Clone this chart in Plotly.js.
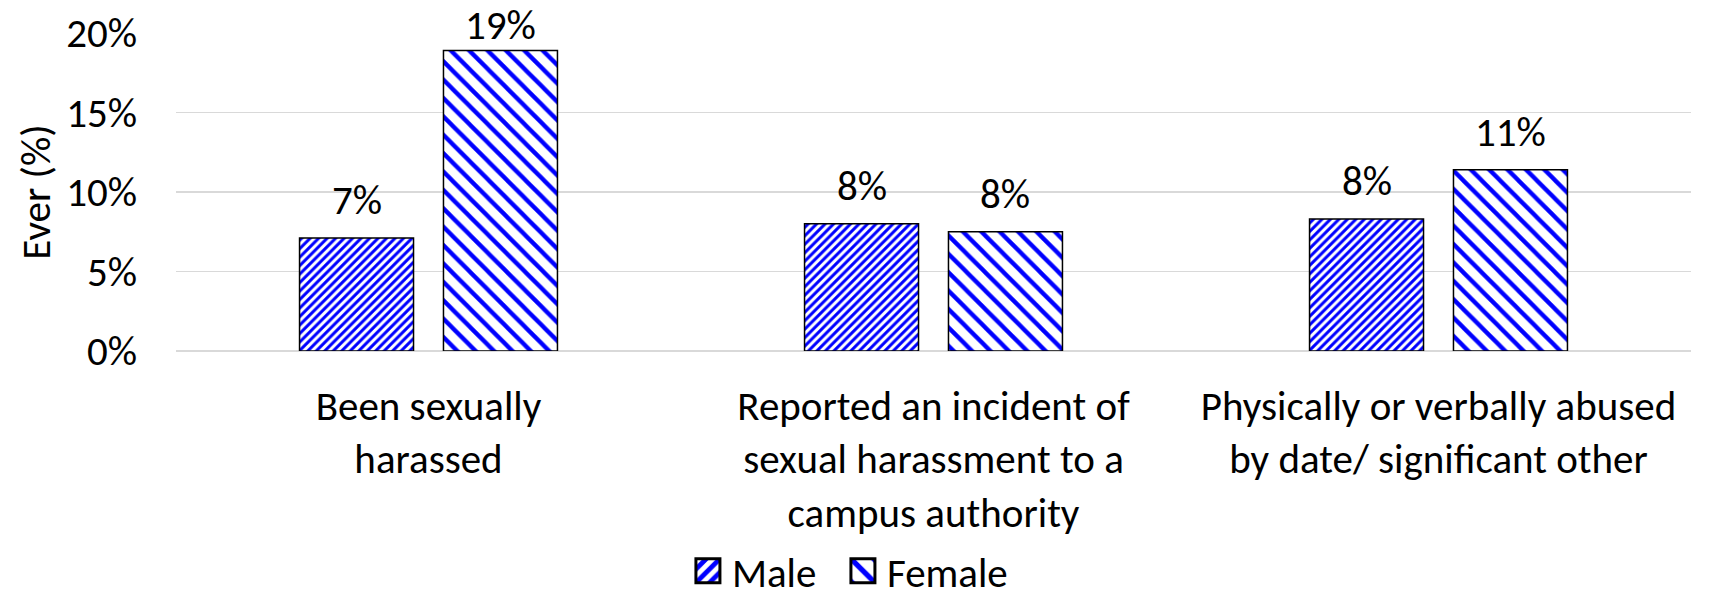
<!DOCTYPE html>
<html>
<head>
<meta charset="utf-8">
<script src="https://cdn.plot.ly/plotly-3.0.1.min.js"></script>
<style>
  html, body { margin: 0; padding: 0; background: #fff; }
  #chart { width: 1710px; height: 593px; }
</style>
</head>
<body>
<div id="chart"></div>
<script>
// ---- Data ----
const categories = [
  "Been sexually<br>harassed",
  "Reported an incident of<br>sexual harassment to a<br>campus authority",
  "Physically or verbally abused<br>by date/ significant other"
];
const seriesNames = ["Male", "Female"];
const maleValues = [7.1, 8.0, 8.3];
const femaleValues = [18.9, 7.5, 11.4];
const yTickValues = [0, 5, 10, 15, 20];
const yTickLabels = ["0%", "5%", "10%", "15%", "20%"];
const yAxisTitle = "Ever (%)";

// ---- Style ----
const FONT = "Carlito, Lato, 'Open Sans', sans-serif";
const FS = 41;
const W = 1710, H = 593;
const M = {l: 176, r: 19, t: 33, b: 242};
const yMax = 20;
const bargap = 0.43, bargroupgap = 0.208;
const blue = "#0000ff";

const traces = [
  {
    type: "bar", name: seriesNames[0], x: categories, y: maleValues,
    marker: {
      color: "#ffffff",
      line: {color: "#000000", width: 1.5},
      pattern: {shape: "/", fgcolor: blue, bgcolor: "#ffffff", size: 6, solidity: 0.5, fillmode: "replace"}
    },
    hoverinfo: "skip"
  },
  {
    type: "bar", name: seriesNames[1], x: categories, y: femaleValues,
    marker: {
      color: "#ffffff",
      line: {color: "#000000", width: 1.5},
      pattern: {shape: "\\", fgcolor: blue, bgcolor: "#ffffff", size: 13, solidity: 0.33, fillmode: "replace"}
    },
    hoverinfo: "skip"
  }
];

// data labels above each bar, positioned through the axis scale (kept inside the chart like Excel)
const plotH = H - M.t - M.b;
const pxPerUnit = plotH / yMax;
const labelRoom = 52;
const slotOffset = (1 - bargap) / 4;
const annotations = [];
[maleValues, femaleValues].forEach((vals, si) => {
  vals.forEach((v, ci) => {
    const barTopPx = M.t + (yMax - v) * pxPerUnit;
    annotations.push({
      x: ci + (si === 0 ? -slotOffset : slotOffset),
      y: v, xref: "x", yref: "y",
      text: Math.round(v) + "%",
      showarrow: false, yanchor: "bottom", xanchor: "center",
      yshift: Math.min(11, barTopPx - labelRoom),
      font: {family: FONT, size: FS, color: "#000"}
    });
  });
});

const layout = {
  width: W, height: H,
  margin: M,
  paper_bgcolor: "#fff", plot_bgcolor: "#fff",
  font: {family: FONT, size: FS, color: "#000"},
  barmode: "group", bargap: bargap, bargroupgap: bargroupgap,
  showlegend: true,
  legend: {
    orientation: "h", xref: "container", yref: "container",
    x: 0.4906, xanchor: "center", y: 0.037, yanchor: "middle",
    font: {family: FONT, size: FS, color: "#000"},
    itemwidth: 38, entrywidth: 102, tracegroupgap: 0
  },
  xaxis: {
    type: "category", showgrid: false, showline: false, zeroline: false,
    ticks: "", tickfont: {family: FONT, size: FS, color: "#000"},
    ticklabelstandoff: 27, automargin: false
  },
  yaxis: {
    range: [0, yMax], tickvals: yTickValues, ticktext: yTickLabels,
    showgrid: true, gridcolor: "#d9d9d9", gridwidth: 1.5,
    zeroline: true, zerolinecolor: "#d9d9d9", zerolinewidth: 1.5,
    showline: false, ticks: "", ticklabelstandoff: 38,
    tickfont: {family: FONT, size: FS, color: "#000"},
    title: {text: yAxisTitle, font: {family: FONT, size: FS, color: "#000"}, standoff: 2},
    automargin: false
  },
  annotations: annotations
};

Plotly.newPlot("chart", traces, layout, {staticPlot: true, displayModeBar: false}).then(() => {
  const legend = document.querySelector("#chart .legend");
  if (!legend) return;
  // enlarge legend swatches to match the reference (keep the existing placement)
  legend.querySelectorAll(".legendpoints path").forEach(p => {
    const t = p.getAttribute("transform") || "";
    p.setAttribute("transform", (t + " scale(2)").trim());
  });
  // the fixed entry width must not clip the last legend label
  legend.querySelectorAll("[clip-path]").forEach(e => e.removeAttribute("clip-path"));
});
</script>
</body>
</html>
